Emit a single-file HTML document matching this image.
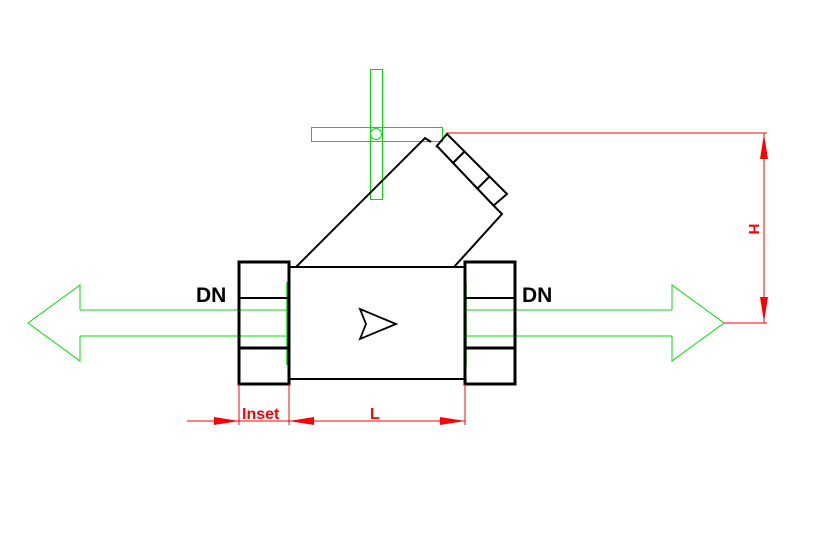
<!DOCTYPE html>
<html><head><style>body{margin:0;background:#fff}svg{display:block}</style></head><body>
<svg width="833" height="535" viewBox="0 0 833 535" xmlns="http://www.w3.org/2000/svg">
<rect width="833" height="535" fill="#fff"/>
<!-- green arrows -->
<g fill="none" stroke="#00e000" stroke-width="1">
<polyline points="80,310 80,285 28,323 80,361 80,336"/>
<line x1="80" y1="310" x2="288" y2="310"/><line x1="80" y1="336" x2="288" y2="336"/>
<polyline points="672,310 672,285 724,323 672,361 672,336"/>
<line x1="466" y1="310" x2="672" y2="310"/><line x1="466" y1="336" x2="672" y2="336"/>
<rect x="370.5" y="69.5" width="12" height="130"/>
<rect x="311.5" y="127.5" width="131" height="14"/>
<circle cx="376" cy="134" r="5.5"/>
</g>
<line x1="287" y1="282" x2="287" y2="365" stroke="#00e000" stroke-width="1.5"/>
<line x1="466" y1="282" x2="466" y2="365" stroke="#00e000" stroke-width="1.5"/>
<!-- black body -->
<g fill="none" stroke="#000" stroke-width="2">
<rect x="239" y="262" width="50" height="122" stroke-width="3"/>
<rect x="465" y="262" width="50" height="122" stroke-width="3"/>
<rect x="289" y="267" width="176" height="112"/>
<line x1="239" y1="298" x2="289" y2="298"/><line x1="239" y1="348" x2="289" y2="348" stroke-width="3"/>
<line x1="465" y1="298" x2="515" y2="298"/><line x1="465" y1="348" x2="515" y2="348" stroke-width="3"/>
<polyline points="296,267 425,138 431,142"/>
<polyline points="436,147 447,134 507,194 493,206"/>
<polyline points="437,146 493,205 502,214 454,267"/>
<line x1="453" y1="163" x2="464" y2="152"/><line x1="478" y1="188" x2="489" y2="177"/>
<polygon points="360,309 396,324 360,339 366,324" stroke-width="1.8"/>
</g>
<g font-family="Liberation Sans, sans-serif" font-weight="bold" font-size="21" fill="#000">
<text x="196" y="302">DN</text><text x="522" y="302">DN</text>
</g>
<!-- red dims -->
<g stroke="#f00" stroke-width="1" fill="none">
<line x1="446" y1="133" x2="767" y2="133"/><line x1="764" y1="133" x2="764" y2="323"/>
<line x1="724" y1="323" x2="767" y2="323"/>
<line x1="187" y1="421" x2="465" y2="421"/>
<line x1="239" y1="384" x2="239" y2="425"/><line x1="289" y1="384" x2="289" y2="425"/><line x1="465" y1="384" x2="465" y2="425"/>
</g>
<g fill="#f00">
<polygon points="764,134 760,159 768,159"/><polygon points="764,322 760,297 768,297"/>
<polygon points="239,421 214,417 214,425"/><polygon points="289,421 314,417 314,425"/><polygon points="465,421 440,417 440,425"/>
<text x="242" y="419" font-family="Liberation Sans, sans-serif" font-weight="bold" font-size="16">Inset</text>
<text x="370" y="419" font-family="Liberation Sans, sans-serif" font-weight="bold" font-size="16">L</text>
<text x="0" y="0" transform="translate(749,229) rotate(90)" text-anchor="middle" font-family="Liberation Sans, sans-serif" font-weight="bold" font-size="15">H</text>
</g>
</svg>
</body></html>
